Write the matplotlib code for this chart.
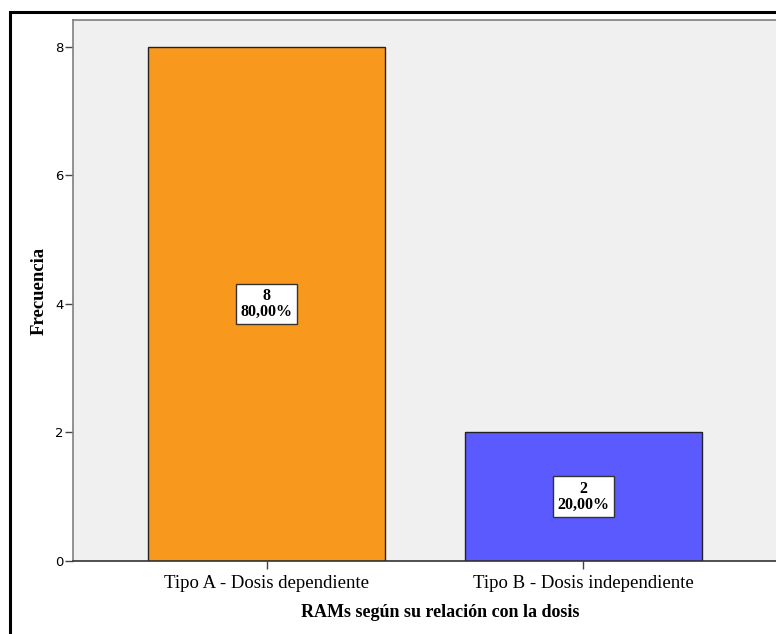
import matplotlib.pyplot as plt
from matplotlib.patches import Rectangle

categorias = ['Tipo A - Dosis dependiente', 'Tipo B - Dosis independiente']
frecuencias = [8, 2]
porcentajes = ['80,00%', '20,00%']
colores = ['#F8991D', '#5A5AFF']

fig = plt.figure(figsize=(7.76, 6.34), dpi=100)
ax = fig.add_axes([73 / 776, 73 / 634, 704 / 776, 541 / 634])
ax.set_facecolor('#F0F0F0')

x = range(len(categorias))
bars = ax.bar(x, frecuencias, width=0.75, color=colores, edgecolor='#222222', linewidth=1.0)

for b, f, p in zip(bars, frecuencias, porcentajes):
    ax.text(b.get_x() + b.get_width() / 2, f / 2, f'{f}\n{p}',
            ha='center', va='center', family='Liberation Serif', fontsize=11.5,
            fontweight='bold', linespacing=0.95,
            bbox=dict(boxstyle='square,pad=0.3', fc='white', ec='#333333', lw=1.0))

ax.set_xlim(-0.611, 1.611)
ax.set_ylim(0, 8.42)
ax.set_yticks([0, 2, 4, 6, 8])
ax.set_xticks(list(x))
ax.set_xticklabels(categorias, family='Liberation Serif', fontsize=13.5)
for t in ax.get_yticklabels():
    t.set_fontsize(9.5)
    t.set_family('DejaVu Sans')
ax.tick_params(axis='y', length=6, width=1, color='#444444', pad=1)
ax.tick_params(axis='x', length=6, width=1, color='#444444', pad=4)

ax.set_ylabel('Frecuencia', family='Liberation Serif', fontsize=13.5, fontweight='bold')
ax.yaxis.set_label_coords((48 - 73) / 704, 0.5)
ax.set_xlabel('RAMs según su relación con la dosis', family='Liberation Serif',
              fontsize=13, fontweight='bold')
ax.xaxis.set_label_coords((440 - 73) / 704, -0.08)

for s in ['top', 'right', 'left']:
    ax.spines[s].set_color('#808080')
    ax.spines[s].set_linewidth(1.2)
ax.spines['bottom'].set_color('#333333')
ax.spines['bottom'].set_linewidth(1.2)

# marco exterior
fig.patches.append(Rectangle((10 / 776, -0.1), 1.2, 1 - 12 / 634 + 0.1,
                             transform=fig.transFigure, fill=False, ec='black', lw=2.2))

fig.savefig('out.png', dpi=100)
